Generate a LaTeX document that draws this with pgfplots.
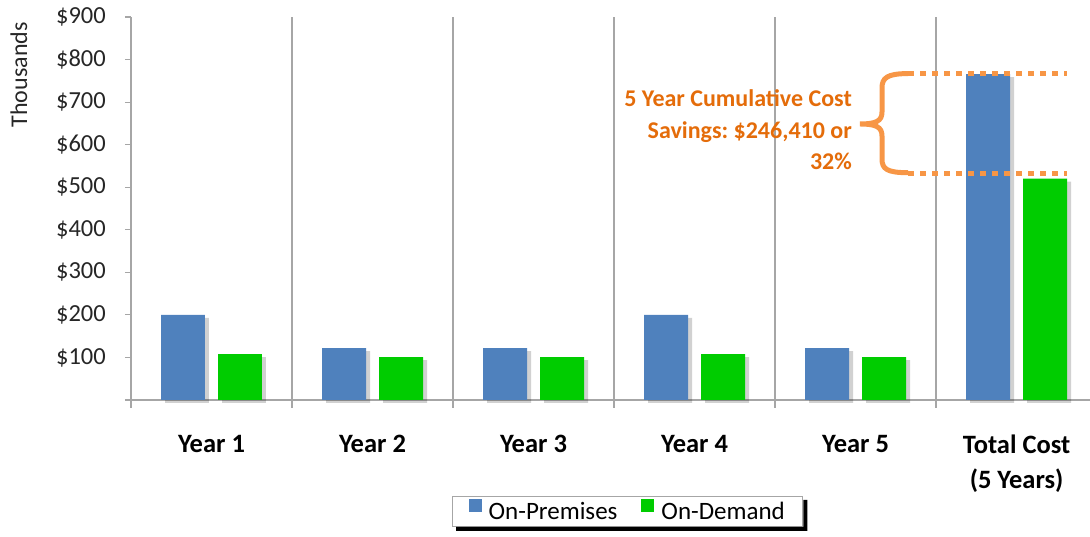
\documentclass[border=0pt]{standalone}
\usepackage{pgfplots}
\pgfplotsset{compat=1.18}
\usepackage{fontspec}
\setmainfont{Carlito}
\frenchspacing
\definecolor{blueC}{HTML}{4F81BD}
\definecolor{greenC}{HTML}{00CC00}
\definecolor{orangeT}{HTML}{E46C0A}
\definecolor{orangeL}{HTML}{F79646}
\definecolor{gridC}{HTML}{A6A6A6}
\begin{document}
\begin{tikzpicture}[x=1pt,y=1pt]
\useasboundingbox (0,0) rectangle (1090,537);
\begin{axis}[
  at={(131pt,137pt)}, anchor=south west,
  scale only axis, width=959pt, height=383pt,
  xmin=-0.5, xmax=5.456, ymin=0, ymax=900,
  clip=false,
  axis x line=bottom, axis y line=left,
  axis line style={-, gridC, line width=1.2pt},
  tick style={gridC, line width=1.2pt},
  tick align=outside,
  xtick={0,1,2,3,4,5},
  xticklabels={Year 1,Year 2,Year 3,Year 4,Year 5,{Total Cost\\(5 Years)}},
  major x tick style={draw=none},
  minor xtick={-0.5,0.5,1.5,2.5,3.5,4.5},
  minor tick length=8pt,
  xminorgrids, minor grid style={gridC, line width=1.2pt},
  xticklabel style={font=\bfseries\fontsize{26.5}{35}\selectfont, align=center, anchor=north, inner sep=0pt, yshift=-29pt, text=black},
  ytick={0,100,200,300,400,500,600,700,800,900},
  yticklabels={,\$100,\$200,\$300,\$400,\$500,\$600,\$700,\$800,\$900},
  major tick length=6pt,
  yticklabel style={font=\fontsize{24.5}{28}\selectfont, inner sep=0pt, xshift=-19pt, text=black!85},
  ylabel={Thousands},
  ylabel style={at={(rel axis cs:-0.117,0.849)}, anchor=center, font=\fontsize{24}{28}\selectfont, text=black!85},
  legend columns=2,
  legend style={at={(rel axis cs:0.518,-0.291)}, anchor=center, draw=gridC, line width=1pt, name=leg,
    font=\fontsize{25}{30}\selectfont, inner xsep=16pt, inner ysep=3pt,
    /tikz/every even column/.append style={column sep=22pt},
    /tikz/every odd column/.append style={column sep=5pt}},
  legend image code/.code={\fill[#1,draw=none] (0pt,-0.5pt) rectangle (13pt,12.5pt);},
]
\addplot[ybar, bar width=0.273, bar shift=-0.177, fill=blueC, draw=none, forget plot,
  preaction={fill=black, opacity=0.18, transform canvas={xshift=4pt, yshift=-3pt}}]
  coordinates {(0,200) (1,122) (2,122) (3,200) (4,122) (5,766)};
\addplot[ybar, bar width=0.273, bar shift=0.177, fill=greenC, draw=none, forget plot,
  preaction={fill=black, opacity=0.18, transform canvas={xshift=4pt, yshift=-3pt}}]
  coordinates {(0,108) (1,101) (2,101) (3,108) (4,101) (5,520)};
\addplot[orangeL, line width=5pt, dash pattern=on 6pt off 6pt, forget plot]
  coordinates {(4.326,767) (5.314,767)};
\addplot[orangeL, line width=5pt, dash pattern=on 6pt off 6pt, forget plot]
  coordinates {(4.326,533) (5.314,533)};
\addlegendimage{fill=blueC}
\addlegendentry{On-Premises}
\addlegendimage{fill=greenC}
\addlegendentry{On-Demand}
\node[anchor=east, align=right, text=orangeT, font=\bfseries\fontsize{24}{31.5}\selectfont, inner sep=0pt]
  at (axis cs:3.978,635) {5 Year Cumulative Cost\\Savings: \$246,410 or\\32\%};
\end{axis}
\fill[black] ([xshift=4pt]leg.south west) -- ([xshift=4pt,yshift=-4pt]leg.south west)
  -- ([xshift=4pt,yshift=-4pt]leg.south east) -- ([xshift=4pt,yshift=-4pt]leg.north east)
  -- ([yshift=-4pt]leg.north east) -- (leg.south east) -- cycle;
\draw[orangeL, line width=5pt] (908,463.4) .. controls (887,463.4) and (882,459) .. (882,449) -- (882,425)
  .. controls (882,416) and (876,413) .. (860,413)
  .. controls (876,413) and (882,410) .. (882,401) -- (882,378)
  .. controls (882,368) and (887,364.3) .. (908,364.3);
\end{tikzpicture}
\end{document}
